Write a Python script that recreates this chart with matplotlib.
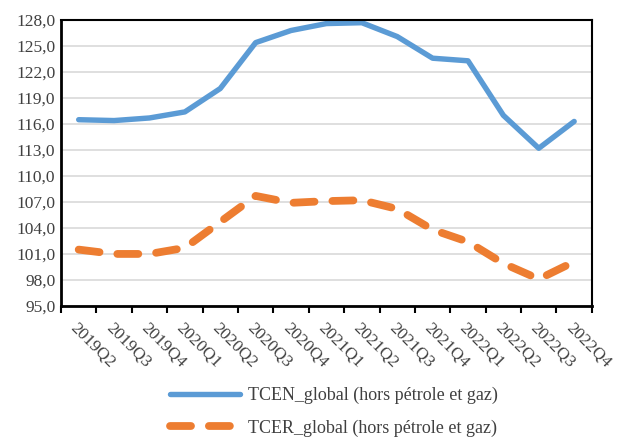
import matplotlib
matplotlib.use("Agg")
import matplotlib.pyplot as plt
import numpy as np

quarters = ["2019Q2", "2019Q3", "2019Q4", "2020Q1", "2020Q2", "2020Q3", "2020Q4",
            "2021Q1", "2021Q2", "2021Q3", "2021Q4", "2022Q1", "2022Q2", "2022Q3", "2022Q4"]
tcen = [116.5, 116.4, 116.7, 117.4, 120.1, 125.4, 126.8,
        127.6, 127.7, 126.1, 123.6, 123.3, 117.0, 113.2, 116.3]
tcer = [101.5, 101.0, 101.0, 101.7, 104.7, 107.7, 106.9,
        107.1, 107.2, 106.2, 103.8, 102.4, 99.9, 98.1, 100.1]
yticks = np.arange(95, 128.1, 3)

BLUE = "#5B9BD5"
ORANGE = "#ED7D31"
TXT = "#404040"

plt.rcParams["font.family"] = ["Liberation Serif", "DejaVu Serif"]

fig = plt.figure(figsize=(6.18, 4.37), dpi=100)
ax = fig.add_axes([0.0987, 0.300, 0.859, 0.654])

x = np.arange(len(quarters))
ax.plot(x, tcen, color=BLUE, lw=3.9, solid_capstyle="round", solid_joinstyle="round",
        label="TCEN_global (hors pétrole et gaz)")
ax.plot(x, tcer, color=ORANGE, lw=5.6, dashes=(2.7, 2.3), dash_capstyle="round",
        dash_joinstyle="round", label="TCER_global (hors pétrole et gaz)")

ax.set_xlim(-0.5, len(quarters) - 0.5)
ax.set_ylim(95, 128)
ax.set_yticks(yticks)
ax.set_yticklabels([f"{v:.1f}".replace(".", ",") for v in yticks], fontsize=12.5, color=TXT)
ax.tick_params(axis="y", length=0, pad=4)
ax.yaxis.grid(True, color="#d9d9d9", lw=1.2)
ax.set_axisbelow(True)

ax.set_xticks(x)
ax.set_xticklabels(quarters, rotation=-45, ha="left", va="top", rotation_mode="anchor",
                   fontsize=12.5, color=TXT)
ax.tick_params(axis="x", which="major", length=0, pad=10)
ax.set_xticks(np.arange(-0.5, len(quarters)), minor=True)
ax.tick_params(axis="x", which="minor", length=5, width=1.5, direction="out", color="black")

for side in ["left", "bottom", "top", "right"]:
    ax.spines[side].set_color("black")
    ax.spines[side].set_linewidth(1.5)
ax.spines["left"].set_linewidth(2)
ax.spines["bottom"].set_linewidth(2)

leg = fig.legend(loc="center", bbox_to_anchor=(0.54, 0.058), ncol=1, frameon=False,
                 fontsize=13, handlelength=3.9, handletextpad=0.4, labelspacing=0.85)
for t in leg.get_texts():
    t.set_color(TXT)

fig.savefig("out.png", dpi=100)
